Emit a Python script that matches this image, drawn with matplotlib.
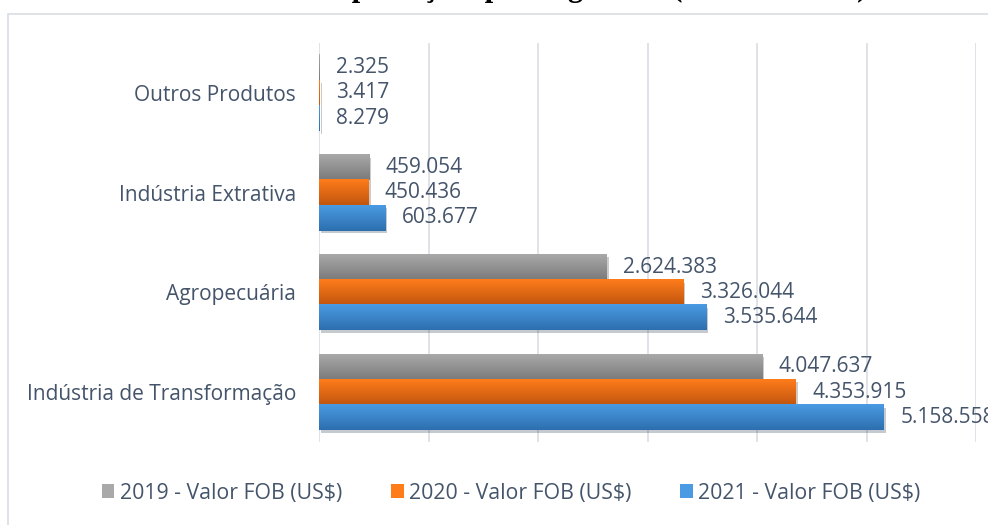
import numpy as np
import matplotlib
matplotlib.use("Agg")
import matplotlib.pyplot as plt
from matplotlib.colors import LinearSegmentedColormap
from matplotlib.patches import Rectangle
import matplotlib.patheffects as pe

categorias = ["Indústria de Transformação", "Agropecuária", "Indústria Extrativa", "Outros Produtos"]
series = ["2019 - Valor FOB (US$)", "2020 - Valor FOB (US$)", "2021 - Valor FOB (US$)"]
v2019 = [4047637, 2624383, 459054, 2325]
v2020 = [4353915, 3326044, 450436, 3417]
v2021 = [5158558, 3535644, 603677, 8279]
rotulos2019 = ["4.047.637", "2.624.383", "459.054", "2.325"]
rotulos2020 = ["4.353.915", "3.326.044", "450.436", "3.417"]
rotulos2021 = ["5.158.558", "3.535.644", "603.677", "8.279"]

# cores (claro -> escuro) para o degradê
cores = [("#a9a9a9", "#7a7a7a"), ("#ff7c1a", "#c2560f"), ("#4a9be3", "#2d6fae")]
txt = "#44546a"

plt.rcParams["font.family"] = ["Open Sans", "DejaVu Sans"]

fig = plt.figure(figsize=(9.88, 5.25), dpi=100)
ax = fig.add_axes([0.323, 0.158, 0.665, 0.76])

# moldura do gráfico
fig.patches.append(Rectangle((8 / 988, -0.1), 1.2, 1.0 - 14 / 525 + 0.1, transform=fig.transFigure,
                             fill=False, edgecolor="#d9dde3", linewidth=1.2, zorder=0))

# título (cortado no topo, como na imagem original)
fig.text(0.52, 1 + 4 / 525, "Gráfico 4 – Importações por Segmento (US$ mil FOB)",
         family="Liberation Serif", weight="bold", fontsize=22, ha="center", va="baseline")

y = np.arange(len(categorias))
h = 0.253
offsets = [h, 0, -h]
valores = [v2019, v2020, v2021]
rotulos = [rotulos2019, rotulos2020, rotulos2021]

for i in range(3):
    bars = ax.barh(y + offsets[i], valores[i], height=h, color=cores[i][0], label=series[i],
                   zorder=2, path_effects=[pe.SimplePatchShadow(offset=(1.5, -2), alpha=0.25), pe.Normal()])
    cmap = LinearSegmentedColormap.from_list("g%d" % i, [cores[i][0], cores[i][1]])
    grad = np.linspace(0, 1, 50).reshape(-1, 1)
    for b, lab in zip(bars, rotulos[i]):
        x0, y0, w, hh = b.get_x(), b.get_y(), b.get_width(), b.get_height()
        ax.imshow(grad, extent=[x0, x0 + w, y0, y0 + hh], origin="upper", cmap=cmap,
                  aspect="auto", zorder=3)
        ax.text(x0 + w + 150000, y0 + hh / 2, lab, va="center", ha="left",
                fontsize=15, color=txt, zorder=4, clip_on=False)

ax.set_xlim(0, 6000000)
ax.set_ylim(-0.5, 3.5)
ax.set_xticks(np.arange(0, 6000001, 1000000))
ax.set_xticklabels([])
ax.set_yticks(y)
ax.set_yticklabels(categorias, fontsize=15, color=txt)
ax.tick_params(axis="both", length=0)
ax.tick_params(axis="y", pad=16.5)
ax.grid(axis="x", color="#d9dde3", linewidth=1.2, zorder=0)
ax.set_axisbelow(True)
for s in ax.spines.values():
    s.set_visible(False)

leg = fig.legend(loc="center", bbox_to_anchor=(511 / 988, 1 - 493 / 525), ncol=3, frameon=False,
                 fontsize=15.3, handlelength=0.6, handleheight=0.6, handletextpad=0.25, columnspacing=2.3)
for t in leg.get_texts():
    t.set_color(txt)
for hnd in leg.legend_handles:
    hnd.set_path_effects([])

fig.savefig("out.png", dpi=100)
